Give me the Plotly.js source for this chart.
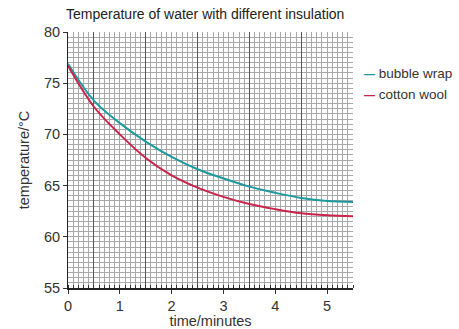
<!DOCTYPE html>
<html>
<head>
<meta charset="utf-8">
<script src="https://cdn.plot.ly/plotly-3.0.1.min.js"></script>
<style>html,body{margin:0;padding:0;background:#fff;}#chart{width:459px;height:329px;}</style>
</head>
<body>
<div id="chart"></div>
<script>
const timeMinutes = [0, 0.5, 1, 1.5, 2, 2.5, 3, 3.5, 4, 4.5, 5, 5.5];
const bubbleWrap = [76.9, 73.3, 71.1, 69.3, 67.8, 66.6, 65.7, 64.9, 64.3, 63.8, 63.5, 63.4];
const cottonWool = [76.7, 72.7, 70.0, 67.7, 66.0, 64.8, 63.9, 63.2, 62.7, 62.3, 62.1, 62.0];
const seriesNames = ['bubble wrap', 'cotton wool'];
const seriesColors = ['#1c9a9e', '#c9244b'];
const xTicks = [0, 1, 2, 3, 4, 5];
const yTicks = [55, 60, 65, 70, 75, 80];

const fam = 'Liberation Sans, Arial, sans-serif';
const traces = [
  {x: timeMinutes, y: bubbleWrap, name: seriesNames[0], mode: 'lines',
   line: {color: seriesColors[0], width: 2, shape: 'spline'}},
  {x: timeMinutes, y: cottonWool, name: seriesNames[1], mode: 'lines',
   line: {color: seriesColors[1], width: 2, shape: 'spline'}},
  // helper trace on overlay axis for the darker half-minute grid lines
  {x: [0, 5.5], y: [55, 55], xaxis: 'x2', mode: 'lines', showlegend: false,
   hoverinfo: 'skip', line: {width: 0, color: 'rgba(0,0,0,0)'}}
];

// legend drawn as text annotations (short coloured key + label)
const legendAnnotations = seriesNames.map((name, i) => ({
  xref: 'paper', yref: 'paper', x: 1.033, y: 0.837 - i * 0.08,
  xanchor: 'left', yanchor: 'middle', showarrow: false, align: 'left',
  text: '<span style="color:' + seriesColors[i] + ';font-size:11px"><b>—</b></span> ' + name,
  font: {family: fam, size: 13.5, color: '#333'}
}));

const layout = {
  width: 459, height: 329,
  margin: {l: 68, r: 106, t: 32, b: 41},
  paper_bgcolor: '#fff', plot_bgcolor: '#fff',
  font: {family: fam, color: '#333', size: 14},
  title: {text: 'Temperature of water with different insulation',
          font: {family: fam, size: 14, color: '#222'},
          x: 0.447, xanchor: 'center', y: 0.958, yanchor: 'middle'},
  showlegend: false,
  annotations: legendAnnotations,
  xaxis: {
    range: [0, 5.5], tickvals: xTicks, ticktext: xTicks.map(String),
    ticks: 'outside', ticklen: 4, tickcolor: '#333',
    showline: true, linecolor: '#222', linewidth: 1.5, mirror: false,
    showgrid: true, gridcolor: '#a8a8a8', gridwidth: 1, zeroline: false,
    minor: {dtick: 0.1, tick0: 0, showgrid: true, gridcolor: '#a8a8a8', gridwidth: 1,
            ticks: 'inside', ticklen: 3, tickcolor: '#333'},
    tickfont: {size: 14.5, color: '#333'},
    automargin: false,
    title: {text: 'time/minutes', font: {size: 14.5, color: '#333'}, standoff: 4}
  },
  xaxis2: {
    overlaying: 'x', range: [0, 5.5], tick0: 0.5, dtick: 1,
    showgrid: true, gridcolor: '#555', gridwidth: 1,
    showticklabels: false, ticks: '', zeroline: false, showline: false
  },
  yaxis: {
    range: [55, 80], tickvals: yTicks, ticktext: yTicks.map(String),
    ticks: 'outside', ticklen: 4, tickcolor: '#333',
    showline: true, linecolor: '#222', linewidth: 1, zeroline: false,
    showgrid: true, gridcolor: '#a8a8a8', gridwidth: 1,
    minor: {dtick: 0.5, showgrid: true, gridcolor: '#a8a8a8', gridwidth: 1},
    tickfont: {size: 14.5, color: '#333'},
    automargin: false,
    title: {text: 'temperature/°C', font: {size: 14.5, color: '#333'}, standoff: 10}
  }
};

Plotly.newPlot('chart', traces, layout, {displayModeBar: false, staticPlot: true});
</script>
</body>
</html>
